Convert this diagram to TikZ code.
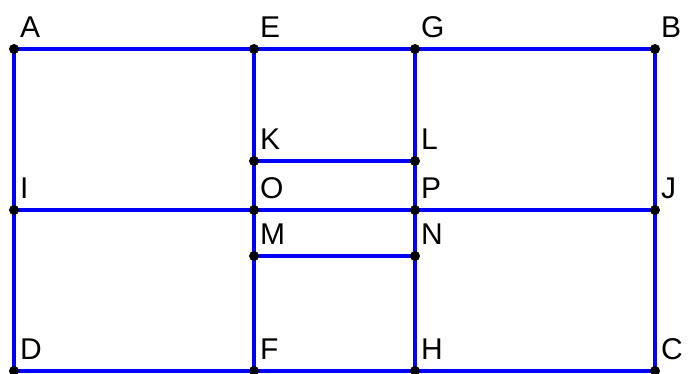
\documentclass[tikz,border=0pt]{standalone}
\usepackage{fontspec}
\setmainfont{Liberation Sans}
\begin{document}
\begin{tikzpicture}[x=1pt,y=-1pt,
  seg/.style={draw={rgb,255:red,0;green,0;blue,255},line width=3.6pt},
  pt/.style={circle,fill=black,inner sep=0pt,minimum size=10pt},
  lbl/.style={anchor=base west,inner sep=0pt,font=\fontsize{30}{30}\selectfont}]
\useasboundingbox (0,0) rectangle (689,374);
\coordinate (A) at (14,49);
\coordinate (E) at (254,49);
\coordinate (G) at (415,49);
\coordinate (B) at (655,49);
\coordinate (K) at (254,161);
\coordinate (L) at (415,161);
\coordinate (I) at (14,210);
\coordinate (O) at (254,210);
\coordinate (P) at (415,210);
\coordinate (J) at (655,210);
\coordinate (M) at (254,256);
\coordinate (N) at (415,256);
\coordinate (D) at (14,371);
\coordinate (F) at (254,371);
\coordinate (H) at (415,371);
\coordinate (C) at (655,371);
\draw[seg] (A) -- (B) -- (C) -- (D) -- cycle;
\draw[seg] (E) -- (F);
\draw[seg] (G) -- (H);
\draw[seg] (I) -- (J);
\draw[seg] (K) -- (L);
\draw[seg] (M) -- (N);
\foreach \p in {A,E,G,B,K,L,I,O,P,J,M,N,D,F,H,C}{
  \node[pt] (d\p) at (\p) {};
  \node[lbl] (t\p) at ([shift={(6,-11)}]\p) {\p};
}
\end{tikzpicture}
\end{document}
